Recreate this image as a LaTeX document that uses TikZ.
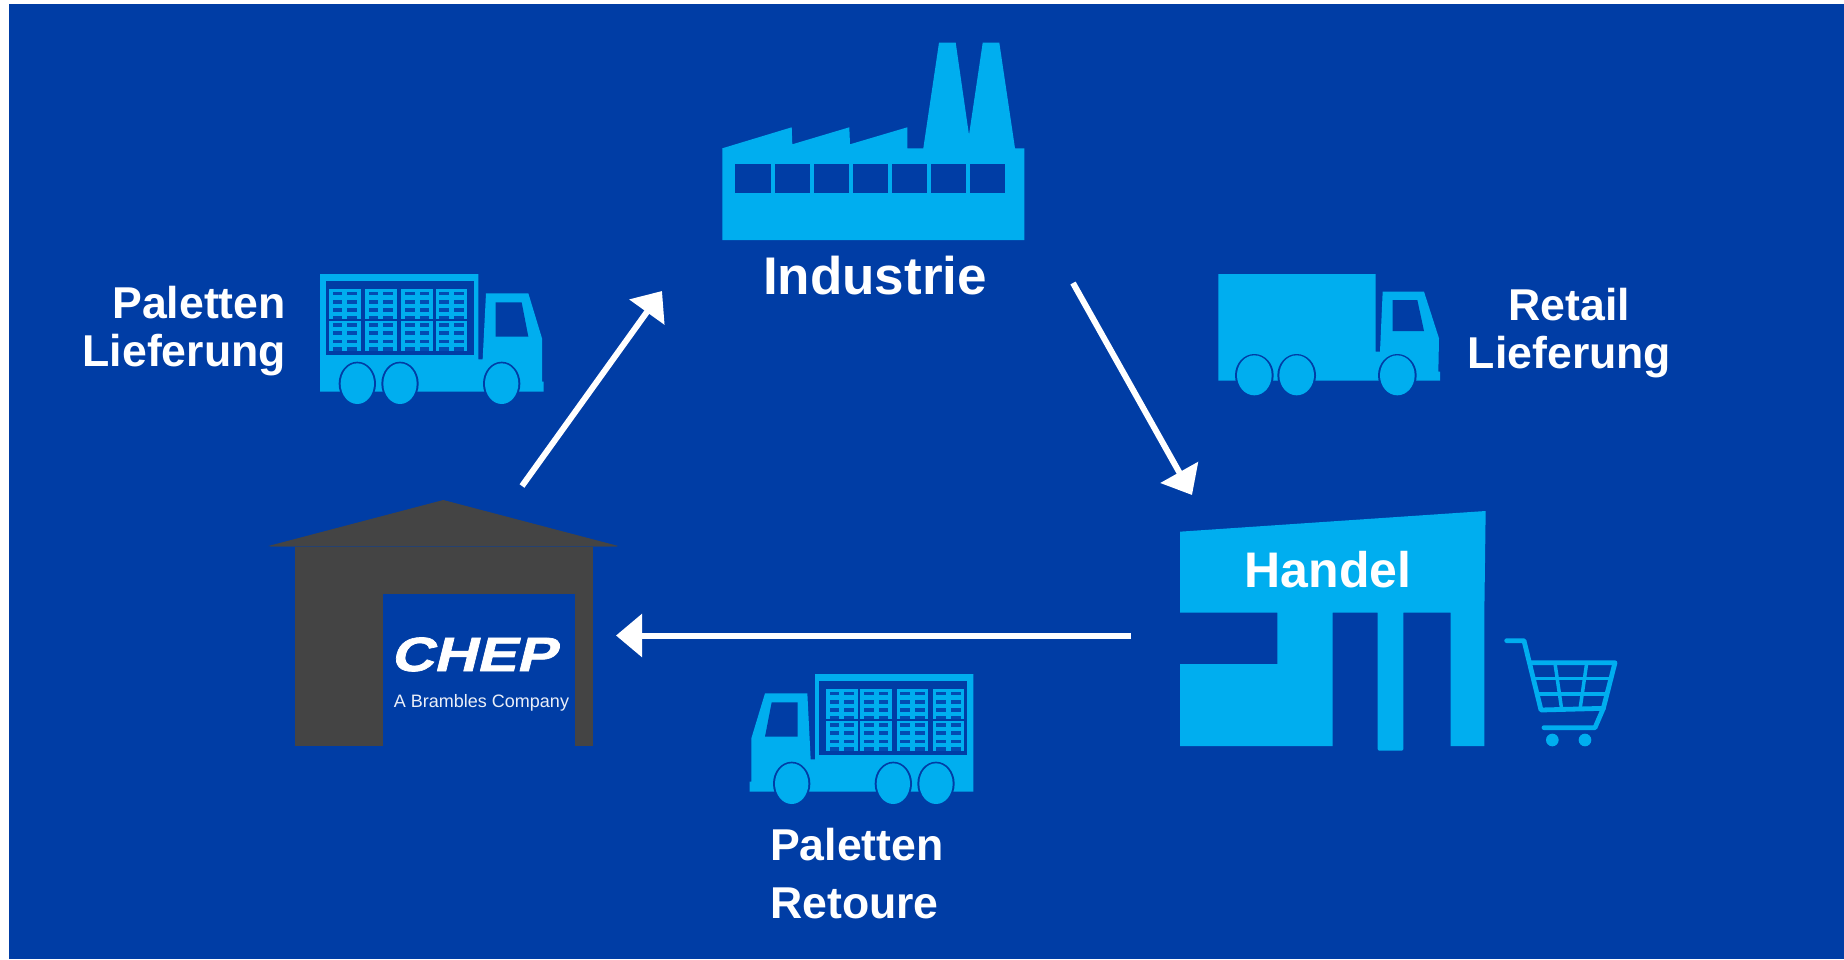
\documentclass[tikz,border=0pt]{standalone}
\usepackage{fontspec}
\setmainfont{Liberation Sans}
\newfontfamily\chepfont{Liberation Sans Bold}[FakeBold=1.5,FakeSlant=0.25,FakeStretch=1.24]
\usetikzlibrary{arrows.meta}
\definecolor{bgblue}{RGB}{0,61,165}
\definecolor{cy}{RGB}{0,174,239}
\definecolor{slot}{RGB}{2,76,178}
\definecolor{house}{RGB}{68,68,68}
\tikzset{
  label45/.style={inner sep=0pt,text=white,font=\bfseries\fontsize{44.6}{48}\selectfont},
  flow/.style={draw=white,line width=6pt,-{Triangle[length=26pt,width=42pt]}},
  icon/.style={fill=cy,draw=none},
  hole/.style={fill=bgblue,draw=none},
  wheelring/.style={fill=bgblue,draw=none},
  cartline/.style={draw=cy,line width=4.8pt,line cap=round,line join=round},
  cartthin/.style={draw=cy,line width=3.5pt},
  pics/pallet/.style={code={
    \fill[cy] (0,0) rectangle (95,90);
    \foreach \r in {7,32,57}{
      \fill[slot] (11,\r) rectangle (40,\r+11);
      \fill[slot] (55,\r) rectangle (84,\r+11);
    }
    \fill[slot] (11,80) rectangle (40,90);
    \fill[slot] (55,80) rectangle (84,90);
  }},
  pics/palettruck/.style={code={
    \fill[cy] (60,42) -- (535,42) -- (535,298) -- (548,298) -- (558,100) -- (685,100) -- (726,235) -- (726,365) -- (731,365) -- (731,395) -- (60,395) -- cycle;
    \fill[bgblue] (78,62) rectangle (522,285);
    \fill[bgblue] (587,127) -- (665,127) -- (685,230) -- (587,230) -- cycle;
    \foreach \px in {87,195,304,407}{
      \pic at (\px,88) {pallet};
      \pic at (\px,182) {pallet};
    }
    \foreach \wx in {172,300,605}{
      \fill[wheelring] (\wx,371) ellipse [x radius=56,y radius=66];
      \fill[cy] (\wx,371) ellipse [x radius=50,y radius=61];
    }
  }}
}
\begin{document}
\begin{tikzpicture}[x=1pt,y=-1pt]
\useasboundingbox (0,0) rectangle (1844,959);
\fill[white] (0,0) rectangle (1844,959);
\fill[bgblue] (9,4) rectangle (1844,959);

% factory
\fill[icon] (722.3,148.3) -- (791.7,127.3) -- (792.3,144.3) -- (849.3,127.3) -- (850,144.3) -- (907.3,127.3) -- (907.3,148.3) -- (923.3,148.3) -- (939,42.7) -- (955.7,42.7) -- (969,135) -- (982.7,42.7) -- (999.3,42.7) -- (1015,148.3) -- (1024.3,148.3) -- (1024.3,240) -- (722.3,240) -- cycle;
\foreach \a/\b in {735.3/771.3,775.3/809.7,814/848.7,852.7/887.7,891.7/926.7,931/965.7,969.7/1005.3}
  \fill[hole] (\a,164) rectangle (\b,193.3);
\node[inner sep=0pt,anchor=base,text=white,font=\bfseries\fontsize{53}{56}\selectfont] (industrie) at (875,294.5) {Industrie};

% left truck
\begin{scope}[shift={(300pt,-260pt)},x=0.33333pt,y=-0.33333pt]
\pic {palettruck};
\end{scope}

% right truck (closed)
\begin{scope}[shift={(1200pt,-260pt)},x=0.33333pt,y=-0.33333pt]
\fill[icon] (55,42) -- (527,42) -- (527,275) -- (540,275) -- (548,95) -- (672,95) -- (717,235) -- (715,335) -- (720,335) -- (720,362) -- (55,362) -- cycle;
\fill[hole] (578,120) -- (652,120) -- (672,213) -- (578,213) -- cycle;
\foreach \wx in {163,290,592}{
  \fill[wheelring] (\wx,346) ellipse [x radius=58,y radius=64];
  \fill[cy] (\wx,346) ellipse [x radius=52,y radius=60];
}
\end{scope}

% bottom truck (mirrored)
\begin{scope}[shift={(993.33pt,-660pt)},x=-0.33333pt,y=-0.33333pt]
\pic {palettruck};
\end{scope}

% labels
\node[label45,anchor=base east] (pl1) at (286,318) {Paletten};
\node[label45,anchor=base east] (pl2) at (286,366) {Lieferung};
\node[label45,anchor=base] (rl1) at (1569.5,320) {Retail};
\node[label45,anchor=base] (rl2) at (1569.5,368) {Lieferung};
\node[label45,anchor=base west] (pr1) at (770,860) {Paletten};
\node[label45,anchor=base west] (pr2) at (770,918) {Retoure};

% warehouse
\begin{scope}[shift={(260pt,-490pt)},x=0.33333pt,y=-0.33333pt]
\fill[house] (25,168) -- (550,30) -- (1075,168) -- cycle;
\fill[house] (105,168) rectangle (998,768);
\fill[hole] (368,312) rectangle (945,768);
\draw[house!55!bgblue,line width=0.8pt] (30,168) -- (1070,168);
\end{scope}
\node[inner sep=0pt,anchor=base,text=white,font=\chepfont\fontsize{48}{50}\selectfont] (chep) at (473,671) {CHEP};
\node[inner sep=0pt,anchor=base,text=white!92!bgblue,font=\fontsize{18}{20}\selectfont] (brambles) at (481.5,707) {A Brambles Company};

% shop
\begin{scope}[shift={(1160pt,-490pt)},x=0.33333pt,y=-0.33333pt]
\fill[icon] (60,125) -- (977,63) -- (973,368) -- (973,768) -- (872,768) -- (872,368) -- (730,368) -- (730,770) .. controls (730,782) and (730,782) .. (718,782) -- (665,782) .. controls (653,782) and (653,782) .. (653,770) -- (653,368) -- (518,368) -- (518,768) -- (60,768) -- (60,522) -- (352,522) -- (352,368) -- (60,368) -- cycle;
% cart
\draw[cartline] (1040,452) -- (1092,452) -- (1143,660) -- (1330,655) -- (1305,713) -- (1152,713);
\draw[cartline] (1112,518) -- (1365,518) -- (1330,655);
\draw[cartthin] (1125,565) -- (1352,565);
\draw[cartthin] (1137,612) -- (1340,612);
\draw[cartthin] (1185,520) -- (1205,658);
\draw[cartthin] (1280,520) -- (1260,658);
\fill[cy] (1177,750) circle [radius=19];
\fill[cy] (1275,750) circle [radius=19];
\end{scope}
\node[inner sep=0pt,anchor=base,text=white,font=\bfseries\fontsize{50}{52}\selectfont] (handel) at (1328,587) {Handel};

% arrows
\coordinate (a1s) at (522,486); \coordinate (a1e) at (662,291);
\coordinate (a2s) at (1073,283); \coordinate (a2e) at (1192,495);
\coordinate (a3s) at (1131,635.5); \coordinate (a3e) at (616,635.5);
\draw[flow] (a1s) -- (a1e);
\draw[flow] (a2s) -- (a2e);
\draw[flow] (a3s) -- (a3e);
\end{tikzpicture}
\end{document}
